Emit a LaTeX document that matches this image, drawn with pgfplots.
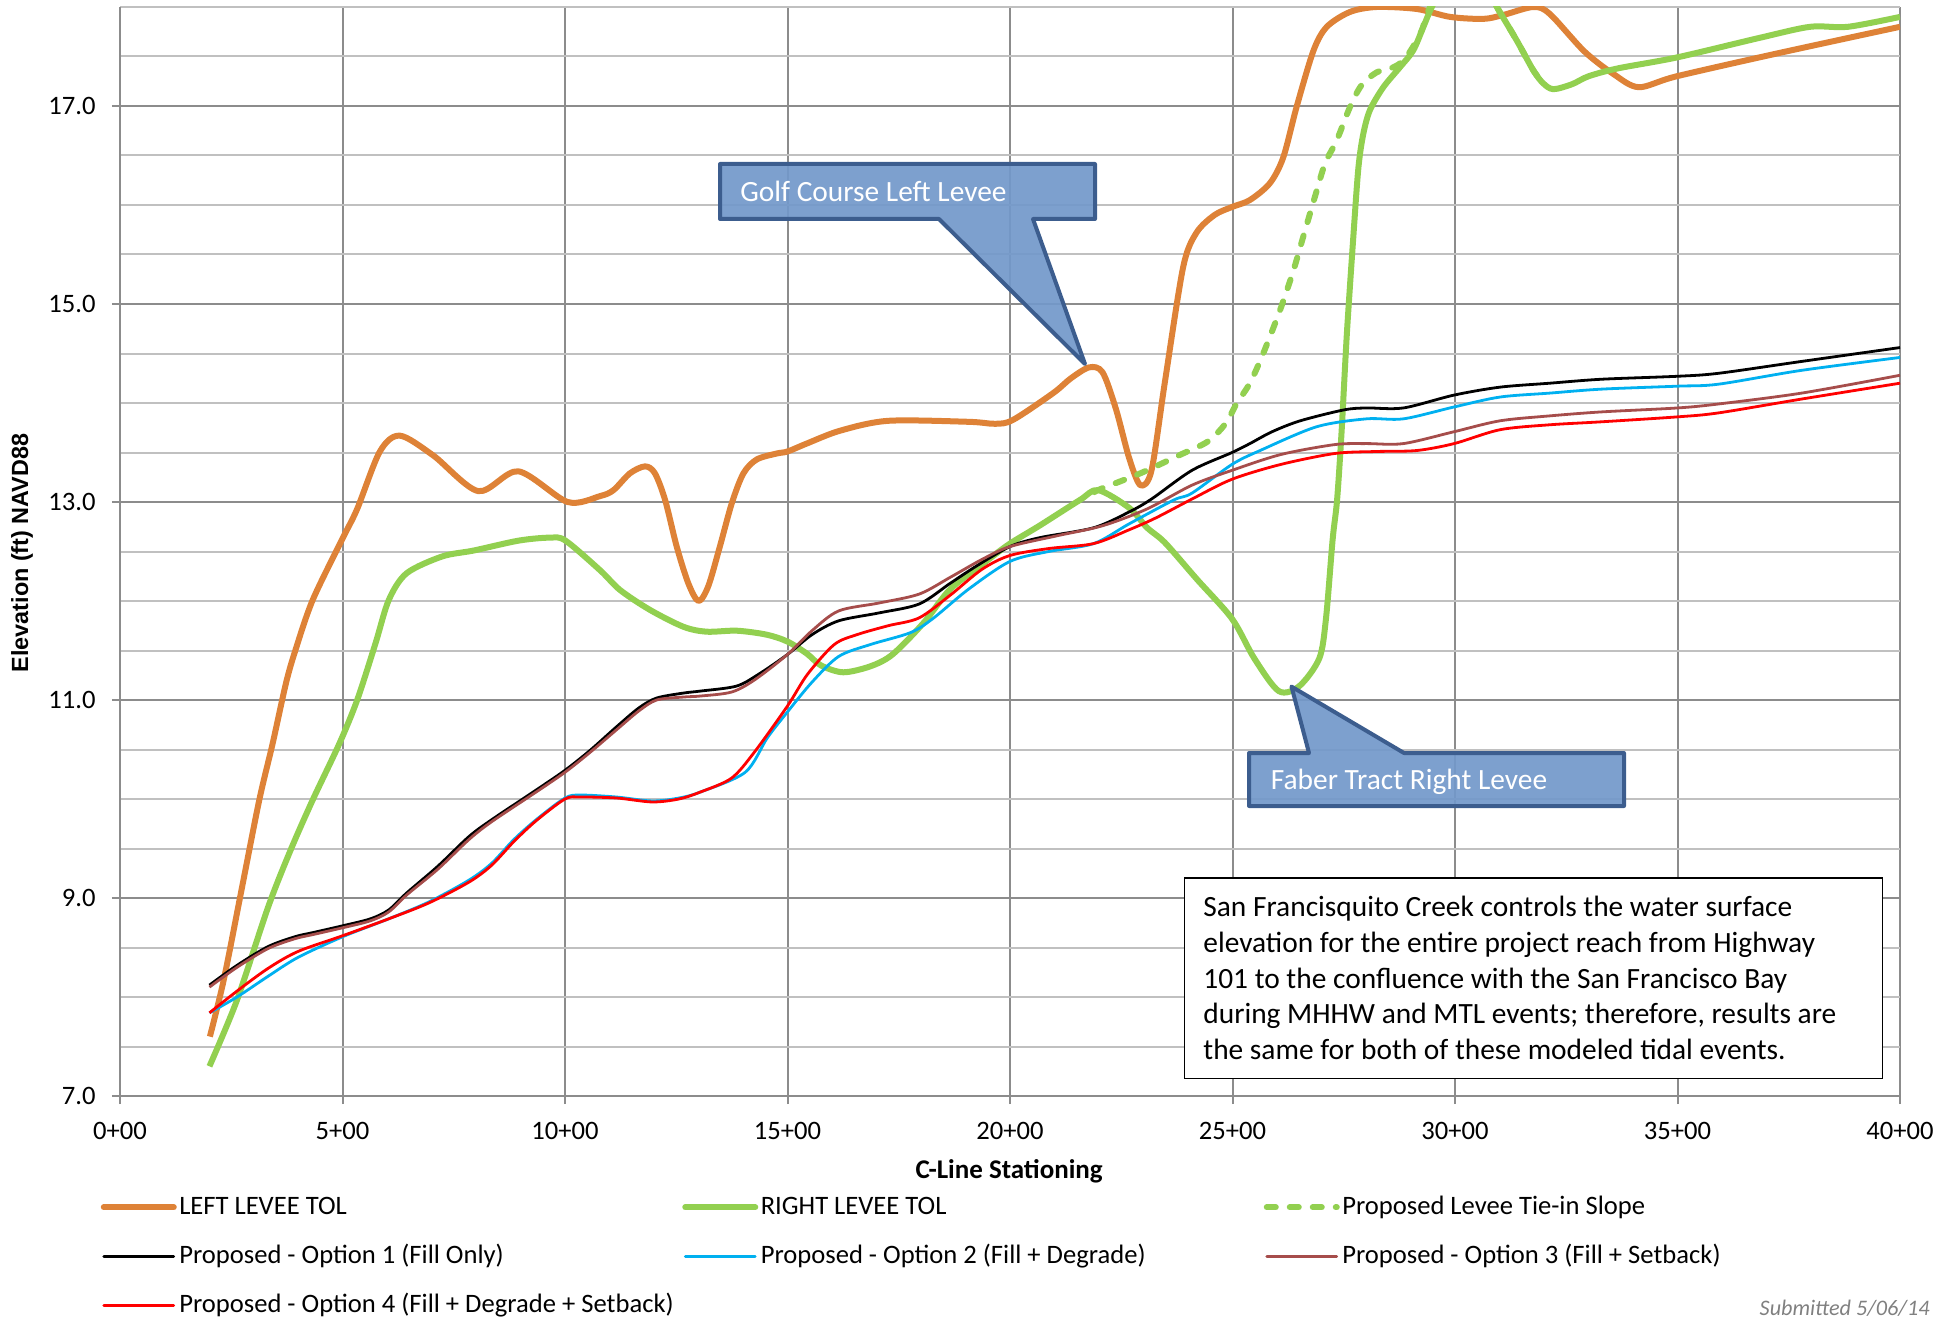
\documentclass[border=0pt]{standalone}
\usepackage{fontspec}
\setmainfont{Carlito}
\newfontfamily\arialfont{Liberation Sans}
\usepackage{pgfplots}
\pgfplotsset{compat=1.18}

\definecolor{levL}{RGB}{222,130,55}
\definecolor{levR}{RGB}{146,208,80}
\definecolor{optB}{RGB}{0,176,240}
\definecolor{optBr}{RGB}{166,77,75}
\definecolor{optR}{RGB}{255,0,0}
\definecolor{gridmajor}{RGB}{140,140,140}
\definecolor{gridminor}{RGB}{192,192,192}
\definecolor{calloutfill}{RGB}{114,152,202}
\definecolor{calloutdraw}{RGB}{60,93,142}

\newcommand{\legfont}{\fontsize{13.3}{16}\selectfont}
\newcommand{\boxfont}{\fontsize{14.7}{17.8}\selectfont}
\newcommand{\legbox}[1]{\makebox[251.5pt][l]{#1}}

\begin{document}
\begin{tikzpicture}
\useasboundingbox (-60pt,-111.5pt) rectangle (917.5pt,548pt);
\begin{axis}[
  at={(0pt,0pt)}, anchor=south west,
  scale only axis, width=890pt, height=544.5pt,
  xmin=0, xmax=4000, ymin=7, ymax=18,
  axis lines=left,
  axis line style={-, draw=gridmajor, line width=1pt},
  xtick={0,500,...,4000},
  xticklabels={0+00,5+00,10+00,15+00,20+00,25+00,30+00,35+00,40+00},
  ytick={7,9,...,17},
  minor ytick={7.5,8,8.5,9.5,10,10.5,11.5,12,12.5,13.5,14,14.5,15.5,16,16.5,17.5,18},
  grid=both,
  major grid style={draw=gridmajor, line width=1pt},
  minor grid style={draw=gridminor, line width=1pt},
  tick align=outside,
  major tick length=4pt, minor tick length=0pt,
  tick style={draw=gridmajor, line width=1pt},
  /pgf/number format/assume math mode=true,
  yticklabel={\pgfmathprintnumber[fixed,fixed zerofill,precision=1]{\tick}},
  tick label style={font=\legfont, text=black, inner sep=0pt},
  yticklabel style={anchor=east, xshift=-8pt},
  xticklabel style={anchor=north, yshift=-8.8pt},
  legend columns=3,
  legend cell align=left,
  legend style={draw=none, fill=none, inner sep=0pt, outer sep=0pt,
    at={(axis description cs:-0.0108,-0.0889)}, anchor=north west,
    row sep=10.0pt, column sep=0pt,
    nodes={inner sep=0pt, text height=10pt, text depth=3pt, font=\legfont}},
  legend image code/.code={
    \draw[#1, line cap=round] (0pt,0pt) -- (35pt,0pt);
    \path[draw=none, fill=none] (0pt,-7.25pt) rectangle (37.75pt,7.25pt);},
]

% Left levee top of levee
\addplot[draw=levL, line width=3pt, line join=round, smooth] coordinates {
(202,7.60)(233,8.17)(273,9.08)(313,9.99)(343,10.56)(373,11.17)(394,11.50)
(433,12.01)(500,12.63)(533,12.93)(584,13.51)(629,13.67)(704,13.47)(805,13.11)
(895,13.31)(1006,13.00)(1079,13.06)(1109,13.12)(1146,13.29)(1180,13.36)
(1202,13.29)(1225,13.02)(1251,12.55)(1277,12.18)(1300,12.00)(1322,12.15)
(1348,12.55)(1375,12.99)(1401,13.29)(1431,13.43)(1476,13.49)(1500,13.51)
(1543,13.59)(1618,13.72)(1726,13.82)(1907,13.81)(1967,13.79)(2007,13.83)
(2097,14.10)(2137,14.25)(2178,14.36)(2208,14.31)(2238,13.94)(2268,13.44)
(2293,13.17)(2318,13.32)(2348,14.21)(2389,15.37)(2419,15.72)(2460,15.90)
(2499,15.98)(2539,16.05)(2584,16.22)(2614,16.48)(2644,16.99)(2682,17.56)
(2712,17.80)(2764,17.95)(2824,18.00)(2914,17.98)(2989,17.90)(3064,17.88)
(3109,17.92)(3176,18.00)(3213,17.93)(3291,17.55)(3357,17.32)(3413,17.19)
(3498,17.30)(3723,17.53)(4000,17.80)};
\addlegendentry{\legbox{LEFT LEVEE TOL}}

% Right levee top of levee
\addplot[draw=levR, line width=3pt, line join=round, smooth] coordinates {
(201,7.30)(263,7.97)(333,8.91)(383,9.48)(433,9.99)(493,10.56)(533,11.00)
(574,11.57)(604,12.01)(644,12.28)(724,12.45)(795,12.51)(896,12.61)(966,12.64)
(1001,12.61)(1079,12.31)(1124,12.11)(1191,11.91)(1266,11.74)(1318,11.69)
(1386,11.70)(1453,11.66)(1500,11.59)(1543,11.47)(1575,11.35)(1625,11.28)
(1686,11.34)(1736,11.46)(1806,11.78)(1866,12.12)(1946,12.40)(2000,12.58)
(2066,12.76)(2157,13.02)(2198,13.12)(2268,12.94)(2308,12.74)(2348,12.59)
(2420,12.22)(2499,11.82)(2549,11.42)(2604,11.09)(2650,11.14)(2695,11.42)
(2710,11.82)(2725,12.62)(2735,13.02)(2745,13.70)(2757,14.70)(2772,15.71)
(2783,16.38)(2794,16.72)(2809,16.96)(2839,17.19)(2876,17.39)(2906,17.56)
(2929,17.80)(2948,18.00)(2990,18.35)(3050,18.35)(3094,18.00)(3139,17.66)
(3176,17.36)(3198,17.23)(3221,17.17)(3263,17.22)(3300,17.30)(3366,17.38)
(3498,17.49)(3686,17.69)(3798,17.80)(3883,17.80)(4000,17.90)};
\addlegendentry{\legbox{RIGHT LEVEE TOL}}

% Proposed tie-in slope
\addplot[draw=levR, line width=3pt, line join=round, line cap=round,
  dash pattern=on 4.5pt off 7pt, smooth] coordinates {
(2190,13.10)(2203,13.13)(2293,13.29)(2384,13.48)(2444,13.61)(2484,13.79)
(2510,14.00)(2539,14.20)(2569,14.50)(2607,14.94)(2637,15.34)(2659,15.68)
(2685,16.08)(2708,16.42)(2734,16.65)(2764,16.99)(2790,17.21)(2824,17.34)
(2861,17.39)(2884,17.46)(2906,17.60)(2925,17.76)(2944,18.00)(2990,18.35)
(3050,18.35)(3094,18.00)(3139,17.66)(3176,17.36)(3200,17.22)};
\addlegendentry{Proposed Levee Tie-in Slope}

% Option 1
\addplot[draw=black, line width=1.4pt, line join=round, smooth] coordinates {
(201,8.12)(263,8.32)(333,8.51)(394,8.61)(433,8.65)(501,8.72)(563,8.79)
(604,8.88)(644,9.05)(714,9.32)(784,9.62)(835,9.79)(935,10.09)(1000,10.29)
(1056,10.49)(1116,10.73)(1166,10.92)(1206,11.02)(1266,11.07)(1304,11.09)
(1385,11.14)(1435,11.26)(1500,11.46)(1555,11.66)(1615,11.80)(1706,11.88)
(1796,11.97)(1866,12.18)(1927,12.36)(2000,12.55)(2067,12.64)(2188,12.74)
(2268,12.90)(2318,13.03)(2409,13.32)(2499,13.50)(2539,13.59)(2589,13.71)
(2652,13.82)(2750,13.93)(2801,13.95)(2884,13.95)(2998,14.08)(3101,14.16)
(3213,14.20)(3329,14.24)(3500,14.27)(3592,14.30)(3779,14.42)(4000,14.56)};
\addlegendentry{\legbox{Proposed - Option 1 (Fill Only)}}

% Option 2
\addplot[draw=optB, line width=1.4pt, line join=round, smooth] coordinates {
(201,7.84)(263,8.00)(333,8.21)(400,8.40)(501,8.61)(604,8.79)(694,8.96)
(784,9.18)(835,9.35)(885,9.59)(935,9.79)(1000,10.01)(1035,10.04)(1116,10.02)
(1196,9.98)(1256,10.01)(1304,10.07)(1405,10.27)(1455,10.62)(1500,10.88)
(1555,11.18)(1615,11.44)(1686,11.56)(1776,11.68)(1826,11.82)(1907,12.12)
(2000,12.40)(2087,12.50)(2188,12.58)(2268,12.78)(2368,13.02)(2409,13.09)
(2499,13.38)(2562,13.52)(2689,13.76)(2801,13.84)(2884,13.84)(2998,13.96)
(3101,14.06)(3213,14.10)(3329,14.14)(3500,14.17)(3592,14.19)(3779,14.33)
(4000,14.46)};
\addlegendentry{\legbox{Proposed - Option 2 (Fill + Degrade)}}

% Option 3
\addplot[draw=optBr, line width=1.4pt, line join=round, smooth] coordinates {
(201,8.10)(263,8.30)(333,8.49)(394,8.59)(433,8.63)(501,8.70)(563,8.77)
(604,8.86)(644,9.03)(714,9.29)(784,9.59)(835,9.77)(935,10.07)(1000,10.27)
(1056,10.47)(1116,10.70)(1166,10.89)(1206,11.00)(1266,11.03)(1304,11.04)
(1374,11.08)(1425,11.20)(1500,11.46)(1555,11.70)(1615,11.90)(1706,11.98)
(1796,12.07)(1866,12.24)(1937,12.42)(2000,12.55)(2107,12.66)(2208,12.76)
(2308,12.93)(2409,13.17)(2499,13.32)(2609,13.48)(2730,13.58)(2801,13.59)
(2884,13.59)(2998,13.71)(3101,13.82)(3213,13.87)(3329,13.91)(3500,13.95)
(3592,13.99)(3779,14.10)(4000,14.28)};
\addlegendentry{Proposed - Option 3 (Fill + Setback)}

% Option 4
\addplot[draw=optR, line width=1.4pt, line join=round, smooth] coordinates {
(201,7.84)(263,8.06)(333,8.29)(400,8.46)(501,8.62)(604,8.79)(694,8.95)
(784,9.16)(835,9.33)(885,9.57)(935,9.78)(1000,10.00)(1035,10.02)(1116,10.01)
(1196,9.97)(1256,10.00)(1304,10.07)(1374,10.21)(1425,10.47)(1500,10.94)
(1545,11.26)(1605,11.56)(1656,11.66)(1726,11.75)(1796,11.83)(1866,12.06)
(1937,12.32)(2000,12.46)(2087,12.53)(2188,12.58)(2268,12.72)(2328,12.84)
(2409,13.03)(2499,13.23)(2609,13.38)(2730,13.49)(2822,13.51)(2914,13.52)
(2998,13.59)(3101,13.73)(3213,13.78)(3329,13.81)(3500,13.86)(3592,13.90)
(3779,14.04)(4000,14.20)};
\addlegendentry{\legbox{Proposed - Option 4 (Fill + Degrade + Setback)}}
\end{axis}

% axis titles
\node[rotate=90, font=\arialfont\bfseries\fontsize{11.7}{14}\selectfont]
  at (-49pt,271.5pt) {Elevation (ft) NAVD88};
\node[anchor=base, font=\bfseries\fontsize{13.5}{16}\selectfont]
  at (444.6pt,-41.25pt) {C-Line Stationing};

% callouts
\filldraw[fill=calloutfill, fill opacity=0.92, draw=calloutdraw, line width=2pt, line join=round]
  (300pt,438.5pt) -- (300pt,466pt) -- (487.5pt,466pt) -- (487.5pt,438.5pt)
  -- (456.5pt,438.5pt) -- (482.5pt,366pt) -- (409.5pt,438.5pt) -- cycle;
\node[anchor=west, text=white, font=\boxfont, inner sep=0pt] at (310pt,452.5pt) {Golf Course Left Levee};

\filldraw[fill=calloutfill, fill opacity=0.92, draw=calloutdraw, line width=2pt, line join=round]
  (564.5pt,145pt) -- (564.5pt,171.5pt) -- (594.5pt,171.5pt) -- (585.75pt,204.7pt)
  -- (642pt,171.5pt) -- (752pt,171.5pt) -- (752pt,145pt) -- cycle;
\node[anchor=west, text=white, font=\boxfont, inner sep=0pt] at (575.25pt,157pt) {Faber Tract Right Levee};

% note box
\draw[black, line width=0.75pt, fill=white] (532.25pt,8.75pt) rectangle (881.35pt,109pt);
\node[anchor=west, align=left, font=\boxfont, inner sep=0pt] at (541.5pt,59pt)
  {San Francisquito Creek controls the water surface\\
   elevation for the entire project reach from Highway\\
   101 to the confluence with the San Francisco Bay\\
   during MHHW and MTL events; therefore, results are\\
   the same for both of these modeled tidal events.};

\node[anchor=east, font=\itshape\fontsize{11.1}{13}\selectfont, text=black!50, inner sep=0pt]
  at (905pt,-106pt) {Submitted 5/06/14};
\end{tikzpicture}
\end{document}
